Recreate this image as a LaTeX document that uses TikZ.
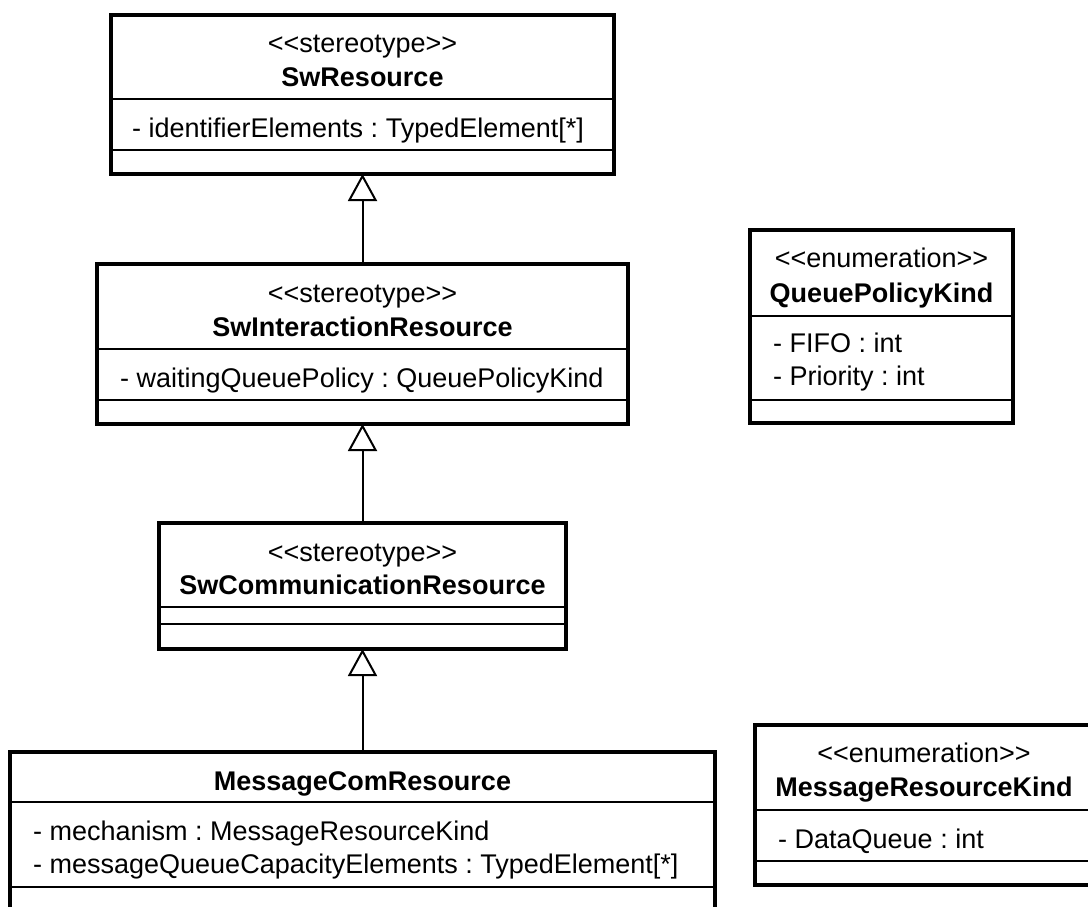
\documentclass[tikz,border=0pt]{standalone}
\usepackage{fontspec}
\setmainfont{Liberation Sans}[Ligatures=TeXOff]
\usetikzlibrary{arrows.meta}
\frenchspacing
\begin{document}
\begin{tikzpicture}[x=1pt,y=-1pt,
  cls/.style={draw=black, line width=4pt, fill=white, inner sep=0pt, outer sep=0pt, anchor=north west},
  sep/.style={draw=black, line width=2pt},
  lbl/.style={inner sep=0pt, anchor=base, font=\fontsize{27}{33}\selectfont},
  cname/.style={lbl, font=\fontsize{27}{33}\selectfont\bfseries},
  attr/.style={lbl, anchor=base west},
  gen/.style={draw=black, line width=2pt, -{Triangle[length=27pt,width=29pt,fill=white]}}
]
\path[use as bounding box] (0,0) rectangle (1088,906);
\clip (0,0) rectangle (1088,906);
\fill[white] (0,0) rectangle (1088,906);

% class boxes
\node[cls, minimum width=503pt, minimum height=159pt] (swres) at (111,15) {};
\node[cls, minimum width=531pt, minimum height=160pt] (swint) at (97,264) {};
\node[cls, minimum width=407pt, minimum height=126pt] (swcom) at (159,523) {};
\node[cls, minimum width=705pt, minimum height=190pt] (msgcom) at (10,752) {};
\node[cls, minimum width=263pt, minimum height=193pt] (qpk) at (750,230) {};
\node[cls, minimum width=338pt, minimum height=160pt] (mrk) at (755,725) {};

% compartment separators
\draw[sep] (swres.west |- 0,99) -- (swres.east |- 0,99);
\draw[sep] (swres.west |- 0,150) -- (swres.east |- 0,150);
\draw[sep] (swint.west |- 0,349) -- (swint.east |- 0,349);
\draw[sep] (swint.west |- 0,400) -- (swint.east |- 0,400);
\draw[sep] (swcom.west |- 0,607) -- (swcom.east |- 0,607);
\draw[sep] (swcom.west |- 0,624) -- (swcom.east |- 0,624);
\draw[sep] (msgcom.west |- 0,802) -- (msgcom.east |- 0,802);
\draw[sep] (msgcom.west |- 0,887) -- (msgcom.east |- 0,887);
\draw[sep] (qpk.west |- 0,316) -- (qpk.east |- 0,316);
\draw[sep] (qpk.west |- 0,400) -- (qpk.east |- 0,400);
\draw[sep] (mrk.west |- 0,810) -- (mrk.east |- 0,810);
\draw[sep] (mrk.west |- 0,861) -- (mrk.east |- 0,861);

% SwResource
\node[lbl] (swres-st) at (362.5,52) {<<stereotype>>};
\node[cname] (swres-nm) at (362.5,86) {SwResource};
\node[attr] (swres-a1) at (132,137) {- identifierElements : TypedElement[*]};

% SwInteractionResource
\node[lbl] (swint-st) at (362.5,302) {<<stereotype>>};
\node[cname] (swint-nm) at (362.5,336) {SwInteractionResource};
\node[attr] (swint-a1) at (120,387) {- waitingQueuePolicy : QueuePolicyKind};

% SwCommunicationResource
\node[lbl] (swcom-st) at (362.5,561) {<<stereotype>>};
\node[cname] (swcom-nm) at (362.5,594) {SwCommunicationResource};

% MessageComResource
\node[cname] (msgcom-nm) at (362.5,790) {MessageComResource};
\node[attr] (msgcom-a1) at (33,840) {- mechanism : MessageResourceKind};
\node[attr] (msgcom-a2) at (33,873) {- messageQueueCapacityElements : TypedElement[*]};

% QueuePolicyKind
\node[lbl] (qpk-st) at (881.5,267) {<<enumeration>>};
\node[cname] (qpk-nm) at (881.5,302) {QueuePolicyKind};
\node[attr] (qpk-a1) at (773,352) {- FIFO : int};
\node[attr] (qpk-a2) at (773,385) {- Priority : int};

% MessageResourceKind
\node[lbl] (mrk-st) at (924,762) {<<enumeration>>};
\node[cname] (mrk-nm) at (924,796) {MessageResourceKind};
\node[attr] (mrk-a1) at (778,848) {- DataQueue : int};

% generalizations
\draw[gen] (swint.north) -- (swres.south);
\draw[gen] (swcom.north) -- (swint.south);
\draw[gen] (msgcom.north) -- (swcom.south);
\end{tikzpicture}
\end{document}
